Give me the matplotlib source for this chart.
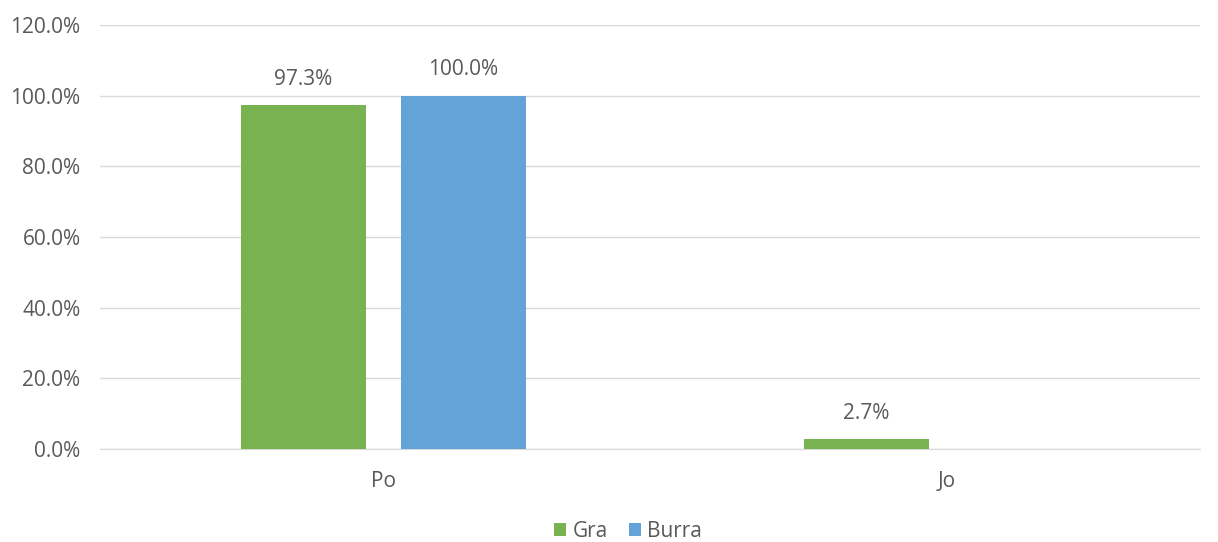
import numpy as np
import matplotlib.pyplot as plt
from matplotlib.ticker import FuncFormatter

categories = ["Po", "Jo"]
gra = [97.3, 2.7]
burra = [100.0, np.nan]

GREEN = "#79B351"
BLUE = "#63A3D8"
TEXT = "#595959"
GRID = "#D9D9D9"

plt.rcParams["font.family"] = ["Open Sans", "DejaVu Sans"]

fig = plt.figure(figsize=(12.18, 5.42), dpi=100)
ax = fig.add_axes([100 / 1218, 1 - 449 / 542, 1100 / 1218, (449 - 25) / 542])

x = np.arange(len(categories))
width = 0.222
offset = 0.142

bars_g = ax.bar(x - offset, gra, width, color=GREEN, label="Gra", zorder=3)
bars_b = ax.bar(x + offset, burra, width, color=BLUE, label="Burra", zorder=3)

for bars, vals in ((bars_g, gra), (bars_b, burra)):
    for b, v in zip(bars, vals):
        if np.isnan(v):
            continue
        ax.annotate(f"{v:.1f}%", (b.get_x() + b.get_width() / 2, v),
                    xytext=(0, 11), textcoords="offset points",
                    ha="center", va="bottom", fontsize=15, color=TEXT)

ax.set_ylim(0, 120)
ax.set_yticks(np.arange(0, 121, 20))
ax.yaxis.set_major_formatter(FuncFormatter(lambda v, _: f"{v:.1f}%"))
ax.set_xlim(-0.5036, 1.450)
ax.set_xticks(x)
ax.set_xticklabels(categories)

ax.grid(axis="y", color=GRID, linewidth=1, zorder=0)
for s in ["top", "right", "left"]:
    ax.spines[s].set_visible(False)
ax.spines["bottom"].set_color(GRID)
ax.tick_params(axis="both", length=0, labelsize=15, colors=TEXT)
ax.tick_params(axis="y", pad=14)
ax.tick_params(axis="x", pad=16)

fig.legend(loc="lower center", bbox_to_anchor=(0.5156, -0.034), ncol=2,
           frameon=False, fontsize=15, labelcolor=TEXT,
           handlelength=0.6, handleheight=0.6, handletextpad=0.3,
           columnspacing=1.0)

fig.savefig("out.png", dpi=100)
